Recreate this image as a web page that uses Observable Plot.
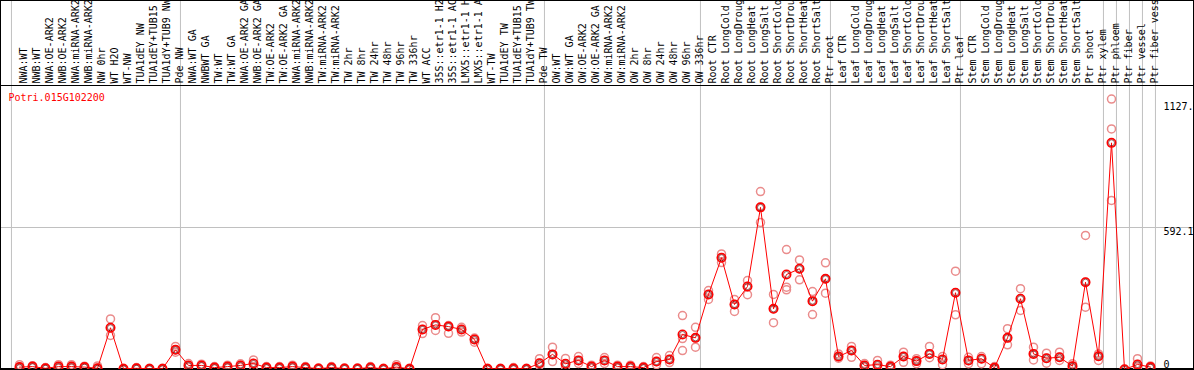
<!DOCTYPE html>
<html><head><meta charset="utf-8">
<script src="https://cdn.jsdelivr.net/npm/d3@7"></script>
<script src="https://cdn.jsdelivr.net/npm/@observablehq/plot@0.6"></script>
<style>
html,body{margin:0;padding:0;background:#fff;}
#chart svg{display:block;outline:1px solid #000;outline-offset:-1px;}
</style></head>
<body><div id="chart"></div>
<script>
const title = "Potri.015G102200";
const samples = ["NWA:WT","NWB:WT","NWA:OE-ARK2","NWB:OE-ARK2","NWA:miRNA-ARK2","NWB:miRNA-ARK2","NW 0hr","WT H2O","WT-NW","TUA1dEY NW","TUA1dEY+TUB15","TUA1dY+TUB9 NW","Pde NW",
"NWA:WT GA","NWBWT GA","TW:WT","TW:WT GA","NWA:OE-ARK2 GA","NWB:OE-ARK2 GA","TW:OE-ARK2","TW:OE-ARK2 GA","NWA:miRNA-ARK2","NWB:miRNA-ARK2","TW:miRNA-ARK2","TW:miRNA-ARK2","TW 2hr","TW 8hr","TW 24hr","TW 48hr","TW 96hr","TW 336hr","WT ACC","35S::etr1-1 H2","35S::etr1-1 AC","LMX5::etr1-1 H","LMX5::etr1-1 A","WT-TW","TUA1dEY TW","TUA1dEY+TUB15","TUA1dY+TUB9 TW","Pde TW",
"OW:WT","OW:WT GA","OW:OE-ARK2","OW:OE-ARK2 GA","OW:miRNA-ARK2","OW:miRNA-ARK2","OW 2hr","OW 8hr","OW 24hr","OW 48hr","OW 96hr","OW 336hr",
"Root CTR","Root LongCold","Root LongDroug","Root LongHeat","Root LongSalt","Root ShortCold","Root ShortDrou","Root ShortHeat","Root ShortSalt","Ptr root",
"Leaf CTR","Leaf LongCold","Leaf LongDroug","Leaf LongHeat","Leaf LongSalt","Leaf ShortCold","Leaf ShortDrou","Leaf ShortHeat","Leaf ShortSalt","Ptr leaf",
"Stem CTR","Stem LongCold","Stem LongDroug","Stem LongHeat","Stem LongSalt","Stem ShortCold","Stem ShortDrou","Stem ShortHeat","Stem ShortSalt","Ptr shoot","Ptr xylem",
"Ptr phloem","Ptr fiber","Ptr vessel","Ptr fiber vess"];
const groupStarts = [0, 13, 41, 53, 63, 73, 84, 85, 86, 87, 88];
const means = [10,12,5,12,12,10,5,174,3,5,3,3,82,
17,17,8,12,17,25,8,8,12,8,4,8,4,4,8,3,10,3,167,186,179,167,125,3,3,4,3,26,
63,24,38,12,38,12,12,8,33,42,146,132,
313,466,271,346,676,253,396,420,285,378,
54,79,17,20,12,54,35,65,42,320,
38,45,7,132,295,65,47,51,14,364,55,
945,0,21,10];
const reps = [[10,20,3],[12,16,8],[5,8,2],[12,20,5],[12,20,5],[10,14,6],[5,15,0],[211,174,142],[3,5,0],[5,8,2],[3,5,0],[3,5,0],[96,82,72],
[17,25,10],[17,22,12],[8,12,4],[12,18,6],[17,24,10],[25,40,12],[8,12,4],[8,12,4],[12,18,6],[8,12,4],[4,6,2],[8,12,4],[4,6,2],[4,6,2],[8,12,4],[3,5,0],[10,20,3],[3,5,0],[183,167,150],[216,186,163],[183,179,151],[176,167,156],[131,125,114],[3,5,0],[3,5,0],[4,8,0],[3,5,0],[45,26,17],
[93,63,33],[46,24,10],[54,38,25],[12,18,6],[50,38,25],[12,18,6],[12,18,6],[8,12,4],[50,33,20],[58,42,29],[225,129,79],[176,132,93],
[329,313,292],[482,466,446],[292,271,242],[371,346,312],[742,676,613],[313,253,195],[500,343,332],[457,420,374],[325,285,229],[445,378,318],
[65,54,47],[96,79,51],[17,25,10],[38,20,8],[12,18,6],[72,54,30],[45,35,24],[96,65,49],[54,42,20],[410,320,228],
[51,38,24],[54,45,24],[12,7,2],[170,132,103],[337,295,246],[93,65,40],[68,47,26],[72,51,38],[24,14,5],[559,364,260],[65,55,38],
[1127.7,1003,705],[0,3,0],[45,21,10],[15,10,5]];
const yTicks = [0, 592.1, 1127.7];
const yTickLabels = ["0", "592.1", "1127."];

const maxVal = d3.max(reps.flat());
const yMax = maxVal * 1.05;
const W = 1194, H = 370;
const step = 13, first = 19;
const xDomain = [-first / step, (W - first) / step];
const xLabel = (1163 - first) / step;

const meanData = means.map((v, i) => ({i, v}));
const repData = reps.flatMap((arr, i) => arr.map(v => ({i, v})));
const labelData = samples.map((s, i) => ({i, s}));
const grid = groupStarts.map(k => k - 0.62);
const tick = k => ({x: xLabel, y: yTicks[k], t: yTickLabels[k]});

const chart = Plot.plot({
  width: W, height: H,
  marginTop: 85, marginBottom: 1, marginLeft: 0, marginRight: 0,
  style: {fontFamily: "DejaVu Sans Mono, monospace", fontSize: "10px", background: "#fff", overflow: "hidden"},
  x: {domain: xDomain, axis: null},
  y: {domain: [0, yMax], axis: null},
  marks: [
    Plot.ruleX(grid, {x: d => d, y1: -10, y2: yMax * 1.4, stroke: "#c0c0c0", strokeWidth: 1}),
    Plot.ruleY([yMax / 2], {stroke: "#c0c0c0", strokeWidth: 1}),
    Plot.ruleY([yMax], {stroke: "#000", strokeWidth: 1}),
    Plot.ruleY([0], {stroke: "#000", strokeWidth: 1, dy: -1}),
    Plot.text(labelData, {x: "i", text: "s", frameAnchor: "top", dy: -2, rotate: -90, textAnchor: "start", fill: "#000", fontSize: 10}),
    Plot.text([title], {text: d => d, frameAnchor: "top-left", dx: 8, dy: 8, textAnchor: "start", lineAnchor: "top", fill: "red", fontSize: 10}),
    Plot.text([tick(0)], {x: "x", y: "y", text: "t", dy: -2, textAnchor: "start", lineAnchor: "bottom", fill: "#000"}),
    Plot.text([tick(1)], {x: "x", y: "y", text: "t", dy: 0, textAnchor: "start", lineAnchor: "top", fill: "#000"}),
    Plot.text([tick(2)], {x: "x", y: "y", text: "t", dy: 4, textAnchor: "start", lineAnchor: "top", fill: "#000"}),
    Plot.dot(repData, {x: "i", y: "v", r: 4, stroke: "#ea8c8c", strokeWidth: 1.5, fill: "none"}),
    Plot.line(meanData, {x: "i", y: "v", stroke: "red", strokeWidth: 1}),
    Plot.dot(meanData, {x: "i", y: "v", r: 4.2, stroke: "red", strokeWidth: 1.6, fill: "none"}),
    Plot.dot(meanData, {x: "i", y: "v", r: 3, stroke: "#500", strokeWidth: 0.6, fill: "none"})
  ]
});
document.getElementById("chart").appendChild(chart);
</script>
</body></html>
